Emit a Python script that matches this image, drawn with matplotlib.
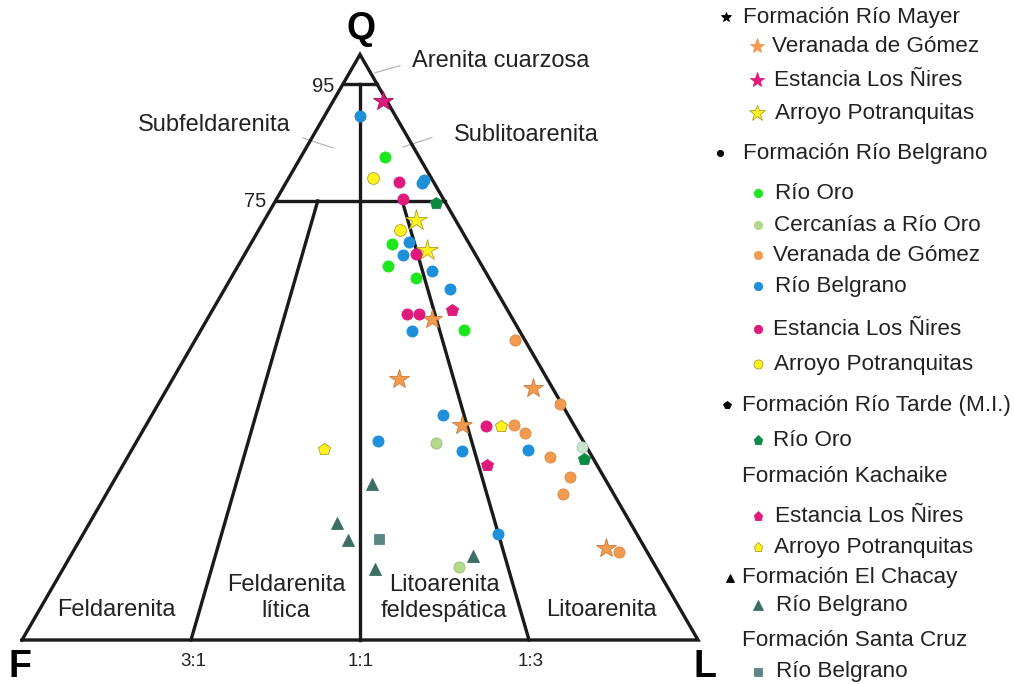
import numpy as np
import matplotlib
matplotlib.use('Agg')
from matplotlib import pyplot as plt

plt.rcParams['font.family'] = ['Liberation Sans', 'DejaVu Sans']

# ---- data: Q and L percentages (F = rest) ----
# Formacion Rio Mayer (stars)
mayer_gomez_Q = [54.8, 44.5, 43.1, 36.7, 15.7]
mayer_gomez_L = [33.3, 33.5, 54.0, 46.7, 78.5]
mayer_nires_Q = [92.1]
mayer_nires_L = [7.3]
mayer_potr_Q = [71.7, 66.7]
mayer_potr_L = [22.4, 26.5]

# Formacion Rio Belgrano (circles)
belg_oro_Q = [82.5, 67.6, 63.9, 61.9, 52.9]
belg_oro_L = [12.5, 21.0, 22.2, 27.4, 38.9]
belg_cerc_Q = [33.6, 12.4]
belg_cerc_L = [44.5, 58.5]
belg_cerc_pale_Q = [33.0]
belg_cerc_pale_L = [66.3]
belg_gomez_Q = [51.2, 40.3, 36.7, 35.4, 31.2, 27.8, 25.0, 15.1]
belg_gomez_L = [47.3, 59.5, 54.4, 56.7, 62.5, 67.1, 67.5, 80.8]
belg_belg_Q = [89.5, 78.6, 78.0, 67.9, 65.8, 63.1, 59.9, 52.8, 38.5, 34.0, 32.2, 32.5, 18.1]
belg_belg_L = [5.3, 20.2, 20.1, 23.3, 23.4, 29.1, 33.4, 31.3, 43.0, 35.6, 49.0, 58.6, 61.3]
belg_nires_Q = [78.3, 75.3, 65.9, 55.7, 55.6, 36.6]
belg_nires_L = [16.6, 18.7, 25.4, 29.1, 30.9, 50.3]
belg_potr_Q = [79.0, 70.0]
belg_potr_L = [12.4, 20.9]

# Formacion Rio Tarde (M.I.) and Kachaike (pentagons)
tarde_oro_Q = [74.6, 30.9]
tarde_oro_L = [23.9, 67.7]
kach_nires_Q = [56.3, 29.9]
kach_nires_L = [35.5, 53.8]
kach_potr_Q = [36.6, 32.6]
kach_potr_L = [52.5, 28.4]

# Formacion El Chacay (triangles) and Santa Cruz (square)
chacay_Q = [26.6, 19.9, 17.1, 12.2, 14.3]
chacay_L = [38.5, 36.7, 39.7, 46.1, 59.6]
scruz_Q = [17.2]
scruz_L = [44.2]

ORANGE = '#F29A4E'
PINK = '#E0197D'
YELLOW = '#FFF21F'
GREEN = '#1EE61E'
LGREEN = '#B3D98C'
BLUE = '#1E8FD9'
DGREEN = '#0B8A44'
TEAL = '#3B6E64'
SQUARE = '#5C8585'
PALE = '#C9E4D0'

H = np.sqrt(3) / 2


def tern(q, l):
    q = np.asarray(q, dtype=float) / 100.0
    l = np.asarray(l, dtype=float) / 100.0
    return l + q / 2, q * H


def px(x, y):
    # pixel position of the reference -> data coords (for labels only)
    return (x - 22) / 676.0, (640 - y) / 676.0


fig = plt.figure(figsize=(10.14, 6.84), dpi=100)
ax = fig.add_axes([0, 0, 1, 1])
ax.set_xlim(-22 / 676, 992 / 676)
ax.set_ylim(-44 / 676, 640 / 676)
ax.axis('off')

lw = 2.4
# outer triangle
tx, ty = tern([0, 0, 100, 0], [0, 100, 0, 0])
ax.plot(tx, ty, color='#1a1a1a', lw=lw, solid_joinstyle='miter', zorder=2)
# field boundaries
for (q1, l1), (q2, l2) in [((95, 0), (95, 5)), ((75, 0), (75, 25)),
                           ((0, 50), (95, 2.5)), ((0, 25), (75, 6.25)),
                           ((0, 75), (75, 18.75))]:
    x, y = tern([q1, q2], [l1, l2])
    ax.plot(x, y, color='#1a1a1a', lw=lw, zorder=2)

# leader lines
for a, b in [((375, 72.7), (400, 65.7)), ((303, 138), (333, 148)),
             ((403, 147), (432, 137.5))]:
    x0, y0 = px(*a)
    x1, y1 = px(*b)
    ax.plot([x0, x1], [y0, y1], color='#b5b5b5', lw=0.9, zorder=1)

txt = '#222222'
fs = 16.2
fr = 17
ax.text(*px(361, 29), 'Q', fontsize=27, fontweight='bold', ha='center', va='center')
ax.text(*px(20, 667), 'F', fontsize=27, fontweight='bold', ha='center', va='center')
ax.text(*px(705, 667), 'L', fontsize=27, fontweight='bold', ha='center', va='center')
ax.text(*px(334, 86), '95', fontsize=14.5, ha='right', va='center', color=txt)
ax.text(*px(266, 201), '75', fontsize=14.5, ha='right', va='center', color=txt)
ax.text(*px(412, 61), 'Arenita cuarzosa', fontsize=fr, ha='left', va='center', color=txt)
ax.text(*px(138, 125), 'Subfeldarenita', fontsize=fr, ha='left', va='center', color=txt)
ax.text(*px(454, 135), 'Sublitoarenita', fontsize=fr, ha='left', va='center', color=txt)
ax.text(*px(116, 610), 'Feldarenita', fontsize=fr, ha='center', va='center', color=txt)
ax.text(*px(286, 598), 'Feldarenita\nlítica', fontsize=fr, ha='center', va='center',
        color=txt, linespacing=1.25)
ax.text(*px(444, 598), 'Litoarenita\nfeldespática', fontsize=fr, ha='center', va='center',
        color=txt, linespacing=1.25)
ax.text(*px(601, 610), 'Litoarenita', fontsize=fr, ha='center', va='center', color=txt)
for lab, xp in [('3:1', 193), ('1:1', 361), ('1:3', 531)]:
    ax.text(*px(xp, 661), lab, fontsize=13.5, ha='center', va='center', color=txt)


def pts(q, l, marker, color, size, edge=None, alpha=1.0):
    x, y = tern(q, l)
    ax.plot(x, y, ls='none', marker=marker, ms=size, mfc=color,
            mec=edge if edge else color, mew=0.6, alpha=alpha, zorder=3)


pts(mayer_gomez_Q, mayer_gomez_L, '*', ORANGE, 15, '#c77a3a')
pts(mayer_nires_Q, mayer_nires_L, '*', PINK, 15, '#a01060')
pts(mayer_potr_Q, mayer_potr_L, '*', YELLOW, 16, '#b0a020')
pts(belg_oro_Q, belg_oro_L, 'o', GREEN, 8)
pts(belg_cerc_Q, belg_cerc_L, 'o', LGREEN, 8, '#98bf78')
pts(belg_cerc_pale_Q, belg_cerc_pale_L, 'o', PALE, 8, '#aacdb4')
pts(belg_gomez_Q, belg_gomez_L, 'o', ORANGE, 8, '#d98a45')
pts(belg_belg_Q, belg_belg_L, 'o', BLUE, 8)
pts(belg_nires_Q, belg_nires_L, 'o', PINK, 8)
pts(belg_potr_Q, belg_potr_L, 'o', YELLOW, 8.5, '#b0a020')
pts(tarde_oro_Q, tarde_oro_L, 'p', DGREEN, 9)
pts(kach_nires_Q, kach_nires_L, 'p', PINK, 9)
pts(kach_potr_Q, kach_potr_L, 'p', YELLOW, 9, '#b0a020')
pts(chacay_Q, chacay_L, '^', TEAL, 8)
pts(scruz_Q, scruz_L, 's', SQUARE, 7.5)

# ---- legend on the right ----
legend = [
    (726, 17, '*', 'black', 7, 743, 'Formación Río Mayer'),
    (757, 46, '*', ORANGE, 11, 772, 'Veranada de Gómez'),
    (757, 80, '*', PINK, 11, 774, 'Estancia Los Ñires'),
    (757, 113, '*', YELLOW, 12, 775, 'Arroyo Potranquitas'),
    (720, 153, 'o', 'black', 4.5, 743, 'Formación Río Belgrano'),
    (758, 193, 'o', GREEN, 6, 775, 'Río Oro'),
    (758, 225, 'o', LGREEN, 6, 774, 'Cercanías a Río Oro'),
    (758, 255, 'o', ORANGE, 6, 773, 'Veranada de Gómez'),
    (758, 286, 'o', BLUE, 6, 775, 'Río Belgrano'),
    (758, 329, 'o', PINK, 6, 773, 'Estancia Los Ñires'),
    (758, 364, 'o', YELLOW, 6.5, 774, 'Arroyo Potranquitas'),
    (727, 405, 'p', 'black', 5.5, 742, 'Formación Río Tarde (M.I.)'),
    (758, 440, 'p', DGREEN, 6.5, 773, 'Río Oro'),
    (None, 477, None, None, 0, 742, 'Formación Kachaike'),
    (758, 516, 'p', PINK, 6.5, 775, 'Estancia Los Ñires'),
    (758, 547, 'p', YELLOW, 6.5, 774, 'Arroyo Potranquitas'),
    (730, 578, '^', 'black', 5.5, 742, 'Formación El Chacay'),
    (758, 605, '^', TEAL, 6.5, 776, 'Río Belgrano'),
    (None, 640, None, None, 0, 742, 'Formación Santa Cruz'),
    (758, 672, 's', SQUARE, 6, 776, 'Río Belgrano'),
]
for mx, my, mk, mc, ms, tx_, label in legend:
    if mk is not None:
        edge = '#b0a020' if mc == YELLOW else mc
        ax.plot(*px(mx, my), ls='none', marker=mk, ms=ms, mfc=mc, mec=edge, mew=0.6)
    ax.text(*px(tx_, my), label, fontsize=fs, ha='left', va='center', color=txt)

plt.savefig('out.png', dpi=100)
